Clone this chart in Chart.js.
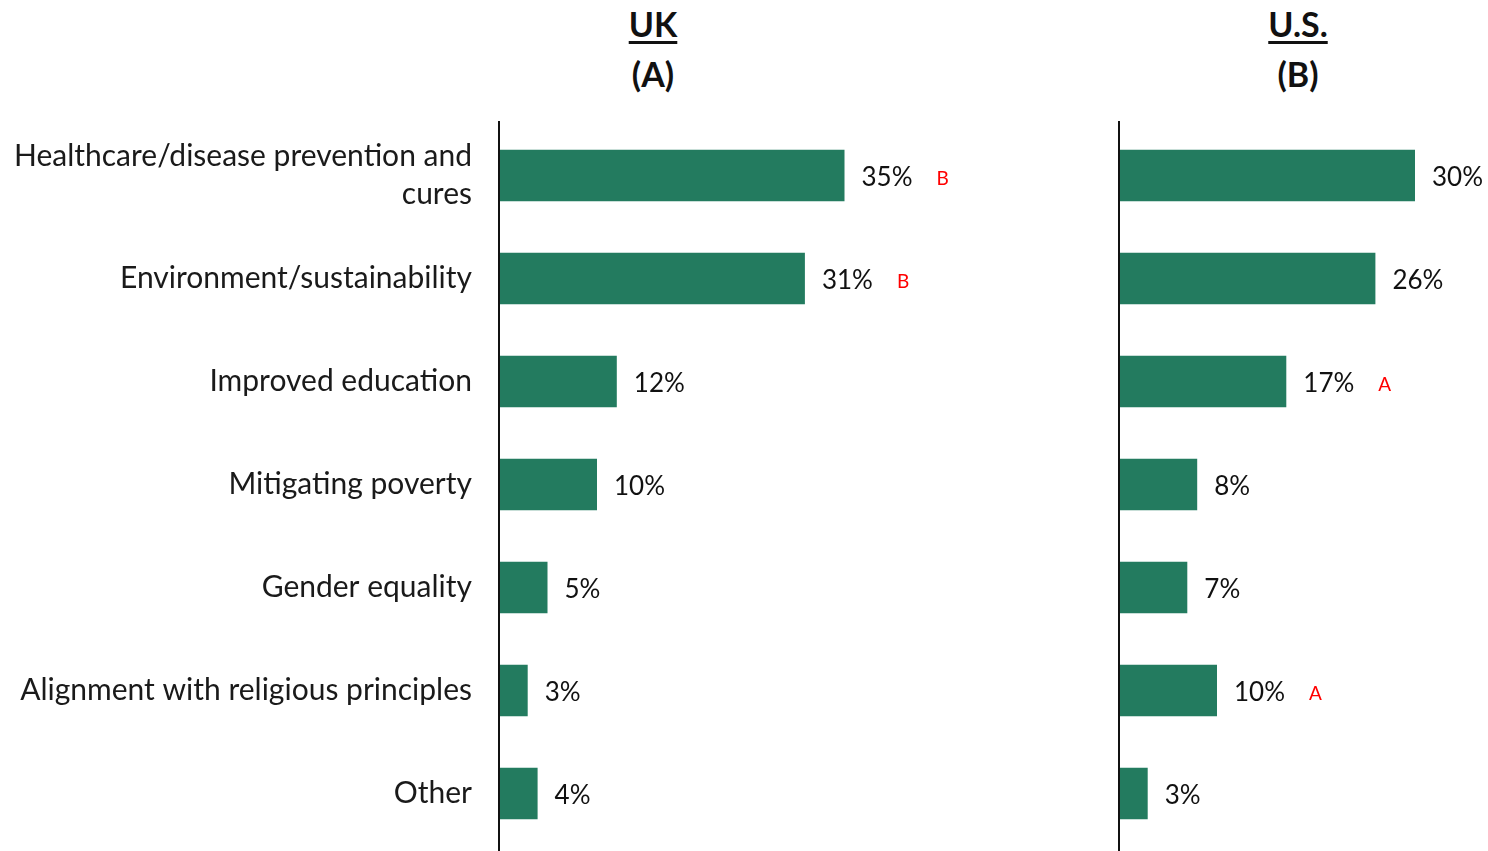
<!DOCTYPE html>
<html>
<head>
<meta charset="utf-8">
<script src="https://cdn.jsdelivr.net/npm/chart.js@4/dist/chart.umd.min.js"></script>
<style>
  html, body { margin: 0; padding: 0; background: #fff; overflow: hidden; }
  body { width: 1488px; height: 851px; position: relative; font-family: Lato, "Open Sans", sans-serif; }
  .panel { position: absolute; top: 0; height: 851px; }
  .head { position: absolute; text-align: center; font-weight: bold; font-size: 34px; color: #111; line-height: 50px; }
  .head u { text-decoration-thickness: 3px; text-underline-offset: 4px; }
</style>
</head>
<body>
<div class="head" style="left:553px;width:200px;top:-1px;"><u>UK</u><br>(A)</div>
<div class="head" style="left:1198px;width:200px;top:-1px;"><u>U.S.</u><br>(B)</div>
<div class="panel" style="left:0;width:1000px;"><canvas id="uk"></canvas></div>
<div class="panel" style="left:1000px;width:620px;"><canvas id="us"></canvas></div>
<script>
const categories = [
  ['Healthcare/disease prevention and', 'cures'],
  'Environment/sustainability',
  'Improved education',
  'Mitigating poverty',
  'Gender equality',
  'Alignment with religious principles',
  'Other'
];
const ukValues = [35, 31, 12, 10, 5, 3, 4];
const usValues = [30, 26, 17, 8, 7, 10, 3];
const ukSig = ['B', 'B', '', '', '', '', ''];
const usSig = ['', '', 'A', '', '', 'A', ''];
const axisMax = 50;

const FONT = 'Lato, "Open Sans", sans-serif';
const BAR = '#237b5f';

// value labels with significance letters, plus the vertical axis line
const labelPlugin = {
  id: 'valueLabels',
  afterDatasetsDraw(chart, args, opts) {
    const ctx = chart.ctx;
    const meta = chart.getDatasetMeta(0);
    const data = chart.data.datasets[0].data;
    ctx.save();
    ctx.textBaseline = 'middle';
    ctx.textAlign = 'left';
    meta.data.forEach((bar, i) => {
      const txt = data[i] + '%';
      ctx.font = '26px ' + FONT;
      ctx.fillStyle = '#111';
      const x = bar.x + 17;
      ctx.fillText(txt, x, bar.y + 2);
      const w = ctx.measureText(txt).width;
      const sig = opts.sig[i];
      if (sig) {
        ctx.font = '19px ' + FONT;
        ctx.fillStyle = '#ff0000';
        ctx.fillText(sig, x + w + 24, bar.y + 3);
      }
    });
    // axis line
    const left = chart.chartArea.left;
    ctx.strokeStyle = '#111';
    ctx.lineWidth = 2;
    ctx.beginPath();
    ctx.moveTo(left + 1, 121);
    ctx.lineTo(left + 1, chart.height);
    ctx.stroke();
    ctx.restore();
  }
};

function makeChart(id, values, sig, axisWidth, showLabels) {
  return new Chart(document.getElementById(id), {
    type: 'bar',
    data: {
      labels: categories,
      datasets: [{
        data: values,
        backgroundColor: BAR,
        barPercentage: 0.5,
        categoryPercentage: 1.0
      }]
    },
    options: {
      indexAxis: 'y',
      responsive: true,
      maintainAspectRatio: false,
      animation: false,
      layout: { padding: { top: 124, bottom: 6, left: 0, right: 7 } },
      plugins: {
        legend: { display: false },
        tooltip: { enabled: false },
        valueLabels: { sig: sig }
      },
      scales: {
        x: {
          min: 0, max: axisMax,
          display: false
        },
        y: {
          grid: { display: false, drawTicks: false },
          border: { display: false },
          ticks: {
            display: showLabels,
            color: '#1a1a1a',
            padding: 26,
            font: { family: FONT, size: 30, lineHeight: 1.27 }
          },
          afterFit(scale) {
            scale.width = axisWidth;
            scale.paddingTop = 0;
            scale.paddingBottom = 0;
          }
        }
      }
    },
    plugins: [labelPlugin]
  });
}

makeChart('uk', ukValues, ukSig, 498, true);
makeChart('us', usValues, usSig, 118, false);
</script>
</body>
</html>
